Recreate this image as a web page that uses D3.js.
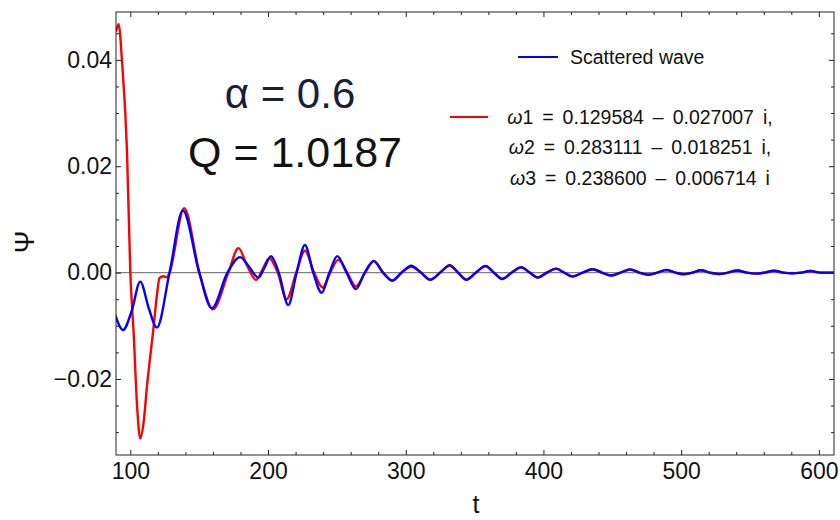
<!doctype html>
<html>
<head>
	<meta charset="UTF-8" />
	<script src="https://d3js.org/d3.v7.min.js"></script>
	<style>
		body { margin: 0; background: #fff; }
		svg text { font-family: "Liberation Sans", Arial, sans-serif; }
		.axis path { display: none; }
		.axis line { stroke: #222; }
	</style>
</head>
<body>
	<svg id="chart" width="840" height="520"></svg>
	<script>
		(function () {
			"use strict"

			// Scattered wave (extrema and zero crossings)
			const blueT = [89.1, 94.7, 101, 107.2, 113.5, 119.3, 128.5, 138.2, 150, 159.2, 170.5, 179.7, 186.5, 193, 197.5, 202.2, 207.8, 214.7, 220.8, 226.8, 232.8, 238.9, 244.6, 250.3, 257, 263.8, 270.2, 276.8, 283.5, 290.3, 297, 304, 311, 317.9, 325, 331.9, 338, 344, 351, 358, 364, 370, 377, 383.8, 390, 395.9, 402.5, 409.2, 415, 421.2, 428.5, 435.7, 442.5, 449, 456, 463, 469.5, 476.3, 482.8, 489.3, 495.8, 502.2, 508.2, 514.3, 521, 527.5, 534, 540.8, 547.5, 554.1, 560.8, 567.4, 574, 580.7, 587.3, 594, 601, 611];
			const blueV = [-0.0080, -0.0108, -0.0072, -0.0017, -0.0068, -0.01034, 0, 0.01167, 0, -0.0067, 0, 0.0029, 0.0010, -0.00094, 0.0010, 0.0031, 0, -0.0061, 0, 0.0052, 0, -0.0038, 0, 0.0031, 0, -0.0031, 0, 0.0022, 0, -0.0015, 0, 0.0013, 0, -0.00137, 0, 0.0014, 0, -0.00137, 0, 0.00126, 0, -0.0012, 0, 0.00101, 0, -0.00094, 0, 0.00075, 0, -0.00075, 0, 0.00064, 0, -0.00056, 0, 0.0006, 0, -0.0004, 0, 0.0005, 0, -0.0003, 0, 0.00045, 0, -0.00028, 0, 0.0004, 0, -0.0002, 0, 0.00035, 0, -0.00015, 0, 0.0003, 0, 0];

			// QNM fit (red)
			const redT = [89.6, 91.5, 94, 97.6, 100, 102.4, 105, 107.2, 109.5, 112.1, 116.9, 119.5, 121.2, 124, 126.6, 128.5, 139.1, 150.2, 159.9, 171.2, 178.5, 185, 191.3, 196, 200.9, 207, 213.5, 220.5, 226.8, 233.5, 239.6, 245.2, 251, 257.5, 263.8, 270.5, 276.8, 283.5, 290.3, 297, 304, 311, 317.9, 325, 331.9, 338, 344, 351, 358, 364, 370, 377, 383.8, 390, 395.9, 402.5, 409.2, 415, 421.2, 428.5, 435.7, 442.5, 449, 456, 463, 469.5, 476.3, 482.8, 489.3, 495.8, 502.2, 508.2, 514.3, 521, 527.5, 534, 540.8, 547.5, 554.1, 560.8, 567.4, 574, 580.7, 587.3, 594, 601, 611];
			const redV = [0.0453, 0.0467, 0.0396, 0.0227, 0, -0.0113, -0.0255, -0.0312, -0.0285, -0.0214, -0.0102, -0.0038, -0.00106, -0.0007, -0.00087, 0, 0.0121, 0, -0.0069, 0, 0.0046, 0.0012, -0.00137, 0.0006, 0.0027, 0, -0.0050, 0, 0.0041, 0, -0.0028, 0, 0.0024, 0, -0.0026, 0, 0.0021, 0, -0.0015, 0, 0.0011, 0, -0.0013, 0, 0.0013, 0, -0.0013, 0, 0.0012, 0, -0.00115, 0, 0.00098, 0, -0.0009, 0, 0.00073, 0, -0.00072, 0, 0.00062, 0, -0.00054, 0, 0.00058, 0, -0.00038, 0, 0.00048, 0, -0.00029, 0, 0.00043, 0, -0.00027, 0, 0.00039, 0, -0.0002, 0, 0.00034, 0, -0.00015, 0, 0.0003, 0, 0];

			const xMajor = [100, 200, 300, 400, 500, 600];
			const yMajor = [-0.02, 0, 0.02, 0.04];
			const yLabels = ["\u22120.02", "0.00", "0.02", "0.04"];

			const legendFit = [
				["\u03c9", "1 = 0.129584 \u2013 0.027007 i,"],
				["\u03c9", "2 = 0.283111 \u2013 0.018251 i,"],
				["\u03c9", "3 = 0.238600 \u2013 0.006714 i"]
			];

			const svg = d3.select("#chart");
			const left = 116, right = 834, top = 12, bottom = 455;

			const x = d3.scaleLinear().domain([89.6, 611]).range([left, right]);
			const y = d3.scaleLinear().domain([-0.0343, 0.049]).range([bottom, top]);

			const xMinor = d3.range(120, 611, 20).filter(function (d) { return xMajor.indexOf(d) < 0; });
			const yMinor = d3.range(-0.03, 0.0451, 0.005).filter(function (d) {
				return yMajor.every(function (m) { return Math.abs(m - d) > 1e-9; });
			});

			// zero line
			svg.append("line")
				.attr("x1", left).attr("x2", right)
				.attr("y1", y(0)).attr("y2", y(0))
				.attr("stroke", "#808080").attr("stroke-width", 1.2);

			// curves
			const line = d3.line().curve(d3.curveMonotoneX);
			svg.append("clipPath").attr("id", "clip").append("rect")
				.attr("x", left).attr("y", top).attr("width", right - left).attr("height", bottom - top);

			svg.append("path")
				.attr("clip-path", "url(#clip)")
				.attr("d", line(redT.map(function (t, i) { return [x(t), y(redV[i])]; })))
				.attr("fill", "none").attr("stroke", "#ff0000").attr("stroke-width", 2.4);

			svg.append("path")
				.attr("clip-path", "url(#clip)")
				.attr("d", line(blueT.map(function (t, i) { return [x(t), y(blueV[i])]; })))
				.attr("fill", "none").attr("stroke", "#0000ff").attr("stroke-width", 2.4);

			// frame
			svg.append("rect")
				.attr("x", left).attr("y", top).attr("width", right - left).attr("height", bottom - top)
				.attr("fill", "none").attr("stroke", "#222").attr("stroke-width", 1);

			// axes (ticks inward)
			function addAxis(axis, tx, ty) {
				const g = svg.append("g").attr("class", "axis").attr("transform", "translate(" + tx + "," + ty + ")").call(axis);
				g.selectAll("text").attr("font-family", "Liberation Sans, Arial, sans-serif").attr("font-size", 23).attr("fill", "#111");
				return g;
			}

			addAxis(d3.axisBottom(x).tickValues(xMajor).tickSize(-5).tickPadding(8).tickFormat(d3.format("d")), 0, bottom);
			addAxis(d3.axisBottom(x).tickValues(xMinor).tickSize(-3).tickFormat(""), 0, bottom);
			addAxis(d3.axisTop(x).tickValues(xMajor).tickSize(-5).tickFormat(""), 0, top);
			addAxis(d3.axisTop(x).tickValues(xMinor).tickSize(-3).tickFormat(""), 0, top);

			addAxis(d3.axisLeft(y).tickValues(yMajor).tickSize(-5).tickPadding(4)
				.tickFormat(function (d, i) { return yLabels[i]; }), left, 0);
			addAxis(d3.axisLeft(y).tickValues(yMinor).tickSize(-3).tickFormat(""), left, 0);
			addAxis(d3.axisRight(y).tickValues(yMajor).tickSize(-5).tickFormat(""), right, 0);
			addAxis(d3.axisRight(y).tickValues(yMinor).tickSize(-3).tickFormat(""), right, 0);

			// axis titles
			svg.append("text")
				.attr("x", 476).attr("y", 513)
				.attr("text-anchor", "middle").attr("font-size", 25).attr("fill", "#111")
				.text("t");
			svg.append("text")
				.attr("transform", "translate(34,242) rotate(-90)")
				.attr("text-anchor", "middle").attr("font-size", 27).attr("fill", "#111")
				.text("\u03a8");

			// parameter labels
			svg.append("text")
				.attr("x", 290).attr("y", 108)
				.attr("text-anchor", "middle").attr("font-size", 42).attr("fill", "#16203a")
				.text("\u03b1 = 0.6");
			svg.append("text")
				.attr("x", 295).attr("y", 167)
				.attr("text-anchor", "middle").attr("font-size", 43).attr("fill", "#111")
				.text("Q = 1.0187");

			// legend
			svg.append("line")
				.attr("x1", 518).attr("x2", 558).attr("y1", 57).attr("y2", 57)
				.attr("stroke", "#0000ff").attr("stroke-width", 2);
			svg.append("text")
				.attr("x", 570).attr("y", 63.5)
				.attr("font-size", 19.5).attr("fill", "#111")
				.text("Scattered wave");

			svg.append("line")
				.attr("x1", 450).attr("x2", 488).attr("y1", 117).attr("y2", 117)
				.attr("stroke", "#ff0000").attr("stroke-width", 2);

			legendFit.forEach(function (row, i) {
				const t = svg.append("text")
					.attr("x", 640).attr("y", 123.5 + i * 30.5)
					.attr("text-anchor", "middle").attr("font-size", 19.5).attr("fill", "#111")
					.attr("word-spacing", "3.5px");
				t.append("tspan").attr("font-style", "italic").text(row[0]);
				t.append("tspan").text(row[1]);
			});

		})();
	</script>
</body>
</html>
